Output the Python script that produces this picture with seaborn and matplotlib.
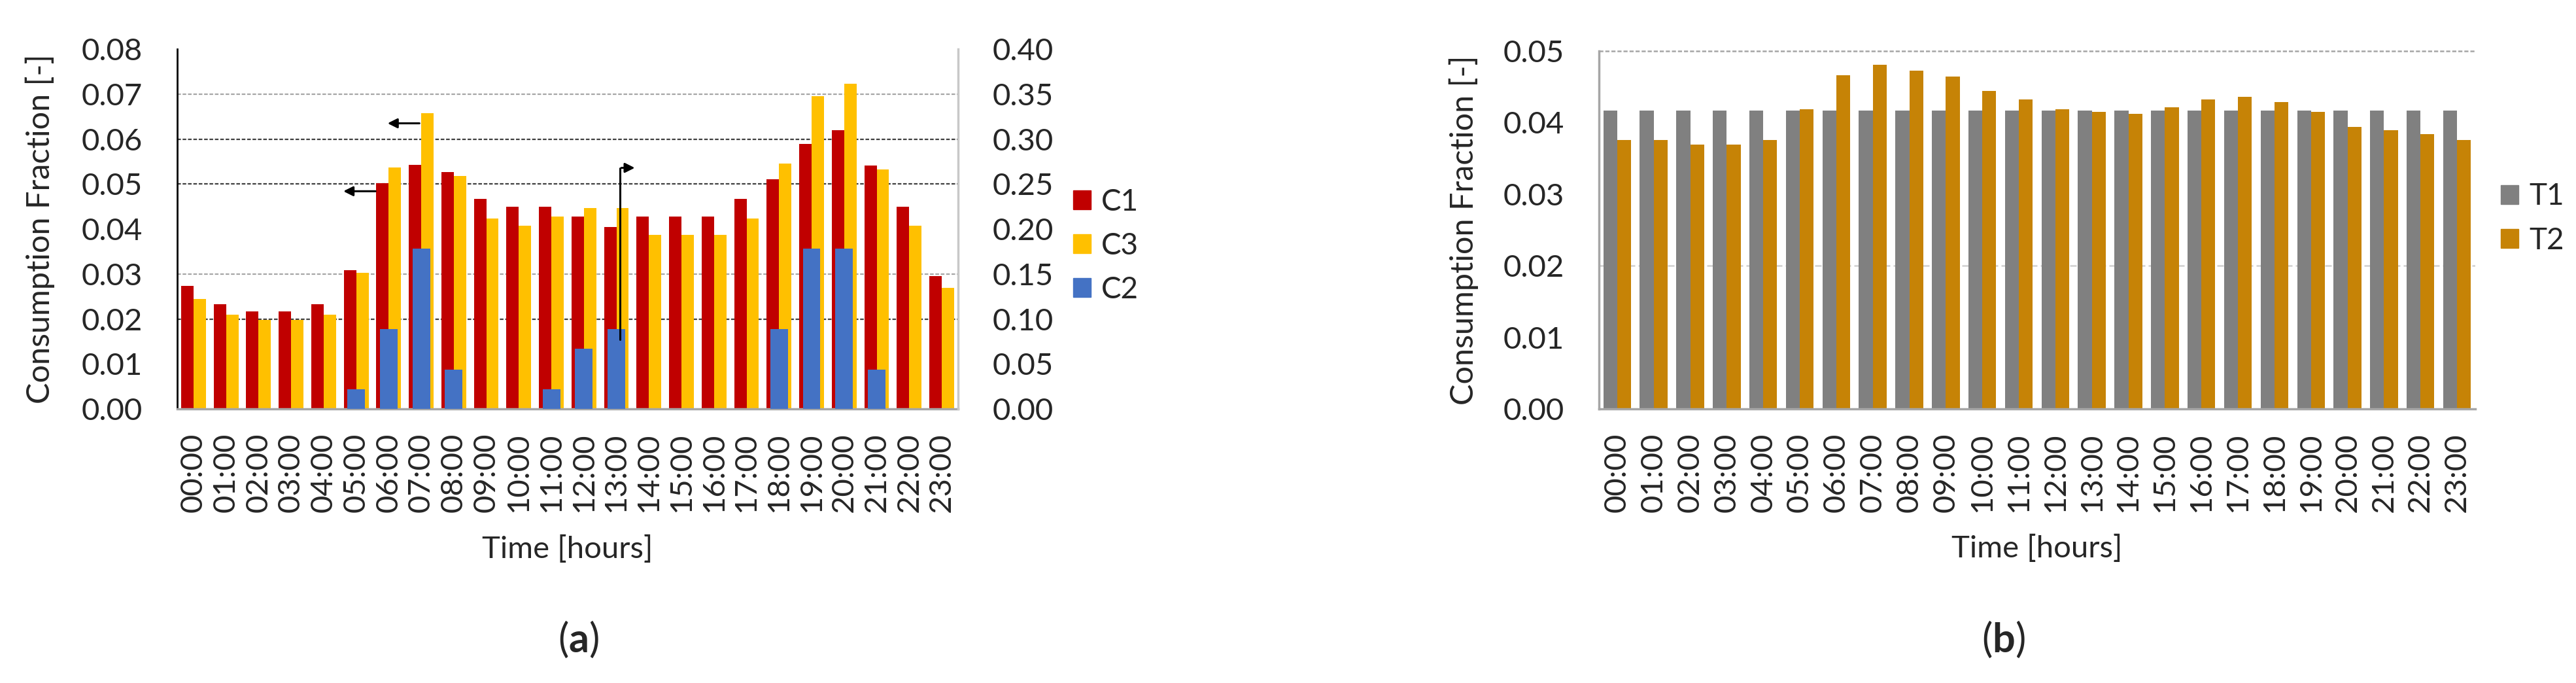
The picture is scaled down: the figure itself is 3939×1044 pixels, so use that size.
import numpy as np
import pandas as pd
import matplotlib
matplotlib.use('Agg')
import matplotlib.pyplot as plt
import seaborn as sns
from matplotlib.patches import Patch
from matplotlib.ticker import FormatStrFormatter

# hours of the day
hours = ['%02d:00' % h for h in range(24)]

# (a) left axis
c1 = [0.0273, 0.0233, 0.0217, 0.0217, 0.0233, 0.0308, 0.0502, 0.0542, 0.0526, 0.0467, 0.0450, 0.0450,
      0.0427, 0.0404, 0.0427, 0.0427, 0.0427, 0.0467, 0.0510, 0.0589, 0.0620, 0.0541, 0.0450, 0.0296]
c3 = [0.0245, 0.0210, 0.0198, 0.0198, 0.0210, 0.0303, 0.0537, 0.0657, 0.0518, 0.0423, 0.0408, 0.0427,
      0.0447, 0.0447, 0.0387, 0.0387, 0.0387, 0.0423, 0.0545, 0.0696, 0.0723, 0.0533, 0.0408, 0.0269]
# (a) right axis
c2 = [0, 0, 0, 0, 0, 0.022, 0.089, 0.178, 0.044, 0, 0, 0.022,
      0.067, 0.089, 0, 0, 0, 0, 0.089, 0.178, 0.178, 0.044, 0, 0]

# (b)
t1 = [1 / 24] * 24
t2 = [0.0376, 0.0376, 0.0369, 0.0369, 0.0376, 0.0419, 0.0466, 0.0481, 0.0473, 0.0464, 0.0444, 0.0432,
      0.0419, 0.0415, 0.0412, 0.0421, 0.0432, 0.0436, 0.0429, 0.0415, 0.0394, 0.0389, 0.0384, 0.0376]

red, yellow, blue = '#C00000', '#FFC000', '#4472C4'
grey, orange = '#808080', '#C68306'

sns.set_style('white')
plt.rcParams['font.family'] = ['Lato', 'DejaVu Sans']
plt.rcParams['mathtext.fontset'] = 'custom'
plt.rcParams['mathtext.bf'] = 'Lato:bold'
plt.rcParams['mathtext.rm'] = 'Lato'

FS = 34

fig = plt.figure(figsize=(39.39, 10.44), dpi=100)
ax = fig.add_axes([0.0688, 0.4013, 0.3031, 0.5268])
bx = fig.add_axes([0.6207, 0.4013, 0.3402, 0.5240])

# ---------------- (a)
df_a = pd.DataFrame({'hour': hours * 2, 'value': c1 + c3,
                     'series': ['C1'] * 24 + ['C3'] * 24})
sns.barplot(data=df_a, x='hour', y='value', hue='series', palette=[red, yellow],
            width=0.76, saturation=1, legend=False, linewidth=0, ax=ax, zorder=2)
ax.set_ylim(0, 0.08)
ax.set_yticks(np.arange(0, 0.081, 0.01))
ax.yaxis.set_major_formatter(FormatStrFormatter('%.2f'))

ax2 = ax.twinx()
sns.barplot(x=hours, y=c2, color=blue, width=0.54, saturation=1, linewidth=0, ax=ax2, zorder=3)
ax2.set_ylim(0, 0.40)
ax2.set_yticks(np.arange(0, 0.401, 0.05))
ax2.yaxis.set_major_formatter(FormatStrFormatter('%.2f'))
ax2.set_ylabel('')

for y in [0.02, 0.05, 0.06]:
    ax.axhline(y, color='#404040', lw=1.6, ls=(0, (2.5, 1.2)), zorder=0)
for y in [0.03, 0.07]:
    ax.axhline(y, color='#A6A6A6', lw=1.6, ls=(0, (2.5, 1.2)), zorder=0)

ax.set_xlim(-0.5, 23.5)
ax.set_xlabel('Time [hours]', fontsize=FS)
ax.set_ylabel('Consumption Fraction [-]', fontsize=FS + 1)
ax.xaxis.set_label_coords(0.5, -0.35)
ax.yaxis.set_label_coords(-0.157, 0.5)
ax.tick_params(axis='x', labelrotation=90, labelsize=FS, length=0, pad=26)
ax.tick_params(axis='y', labelsize=FS, length=0, pad=38)
ax2.tick_params(axis='y', labelsize=FS, length=0, pad=38)

for a in (ax, ax2):
    a.spines['top'].set_visible(False)
ax.spines['left'].set_color('black')
ax.spines['left'].set_linewidth(2)
ax.spines['bottom'].set_color('#A6A6A6')
ax.spines['bottom'].set_linewidth(2.5)
ax2.spines['left'].set_visible(False)
ax2.spines['bottom'].set_visible(False)
ax2.spines['right'].set_color('#C8C8C8')
ax2.spines['right'].set_linewidth(2.5)
ax.spines['right'].set_visible(False)

# arrows showing which axis each series belongs to
arrow = dict(arrowstyle='-|>', color='black', lw=2.2, mutation_scale=22)
ax2.annotate('', xy=(4.55, 0.0484), xytext=(5.65, 0.0484),
             xycoords=ax.transData, textcoords=ax.transData, arrowprops=arrow)
ax2.annotate('', xy=(5.91, 0.0635), xytext=(7.0, 0.0635),
             xycoords=ax.transData, textcoords=ax.transData, arrowprops=arrow)
ax2.plot([13.1, 13.1], [0.077, 0.268], color='black', lw=2.2, zorder=5)
ax2.annotate('', xy=(13.62, 0.268), xytext=(13.1, 0.268), arrowprops=arrow, zorder=5)

fig.legend(handles=[Patch(color=red, label='C1'), Patch(color=yellow, label='C3'),
                    Patch(color=blue, label='C2')],
           loc='center left', bbox_to_anchor=(0.4165, 0.640), frameon=False, fontsize=FS - 1,
           handlelength=0.6, handleheight=0.6, handletextpad=0.35, labelspacing=0.55,
           borderpad=0, borderaxespad=0)

# ---------------- (b)
df_b = pd.DataFrame({'hour': hours * 2, 'value': t1 + t2,
                     'series': ['T1'] * 24 + ['T2'] * 24})
sns.barplot(data=df_b, x='hour', y='value', hue='series', palette=[grey, orange],
            width=0.76, saturation=1, legend=False, linewidth=0, ax=bx, zorder=2)
bx.set_ylim(0, 0.05)
bx.set_yticks(np.arange(0, 0.051, 0.01))
bx.yaxis.set_major_formatter(FormatStrFormatter('%.2f'))
bx.set_xlim(-0.5, 23.5)
bx.axhline(0.05, color='#A6A6A6', lw=1.8, ls=(0, (2.5, 1.2)), zorder=0, clip_on=False)
bx.axhline(0.02, color='#D0D0D0', lw=1.8, ls=(0, (4, 2)), zorder=0)
bx.set_xlabel('Time [hours]', fontsize=FS)
bx.set_ylabel('Consumption Fraction [-]', fontsize=FS + 1)
bx.xaxis.set_label_coords(0.5, -0.35)
bx.yaxis.set_label_coords(-0.137, 0.5)
bx.tick_params(axis='x', labelrotation=90, labelsize=FS, length=0, pad=26)
bx.tick_params(axis='y', labelsize=FS, length=0, pad=38)
bx.spines['top'].set_visible(False)
bx.spines['right'].set_visible(False)
bx.spines['left'].set_color('#A6A6A6')
bx.spines['left'].set_linewidth(2.5)
bx.spines['bottom'].set_color('#A6A6A6')
bx.spines['bottom'].set_linewidth(2.5)

fig.legend(handles=[Patch(color=grey, label='T1'), Patch(color=orange, label='T2')],
           loc='center left', bbox_to_anchor=(0.9708, 0.680), frameon=False, fontsize=FS - 1,
           handlelength=0.6, handleheight=0.6, handletextpad=0.35, labelspacing=0.55,
           borderpad=0, borderaxespad=0)

# panel captions
fig.text(884 / 3939, 0.064, r'($\mathbf{a}$)', fontsize=44, ha='center', va='center')
fig.text(3063 / 3939, 0.064, r'($\mathbf{b}$)', fontsize=44, ha='center', va='center')

fig.savefig('out.png', dpi=100)
